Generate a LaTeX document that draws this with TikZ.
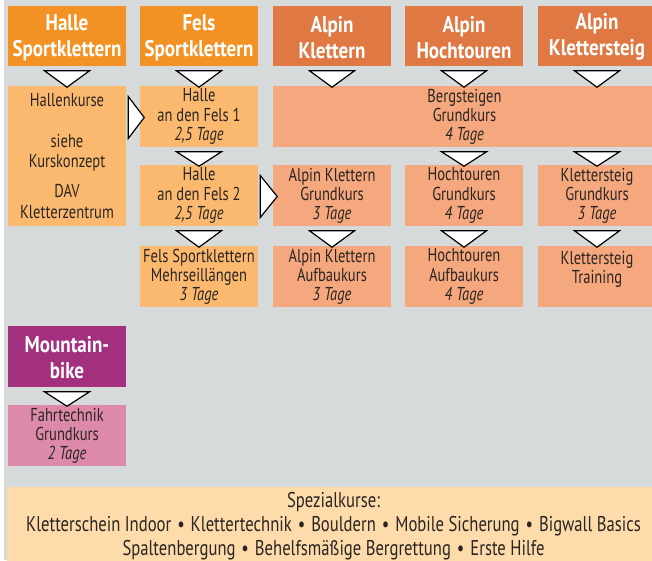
\documentclass[tikz,border=0pt]{standalone}
\usepackage{fontspec}
\setmainfont[FakeStretch=0.78,BoldFeatures={FakeStretch=0.84}]{PT Sans}
\usetikzlibrary{calc}
\definecolor{bgc}{HTML}{D6DADB}
\definecolor{hdrA}{HTML}{F39224}
\definecolor{hdrB}{HTML}{DF7842}
\definecolor{boxA}{HTML}{FBB970}
\definecolor{boxB}{HTML}{F5A77D}
\definecolor{hdrM}{HTML}{A2307F}
\definecolor{boxM}{HTML}{DD8AAA}
\definecolor{boxS}{HTML}{FDDBAA}
\definecolor{txtc}{HTML}{2A2522}
\newcommand{\bodyf}{\fontsize{14}{14.3}\selectfont}
\newcommand{\hdrf}{\fontsize{17}{19.5}\selectfont\bfseries}
\newcommand{\bul}{\hspace{0.28em}•\hspace{0.28em}}
\newcommand{\dtri}[3]{\draw[tri] ($(#2.south -| #1)+(-22.5,4.5)$) -- ($(#2.south -| #1)+(22.5,4.5)$) -- ($(#3.north -| #1)+(0,1.5)$) -- cycle;}
\newcommand{\rtri}[2]{\draw[tri] ($(#1.east |- #2.center)+(2,-20)$) -- ($(#1.east |- #2.center)+(2,22)$) -- ($(#2.west)+(4.5,1)$) -- cycle;}
\begin{document}
\begin{tikzpicture}[x=0.75pt,y=-0.75pt,
  base/.style={rectangle,inner sep=0pt,align=center,minimum width=88.5pt,minimum height=45.75pt},
  hdr/.style={base,minimum height=45pt,text=white,font=\hdrf},
  crs/.style={base,text=txtc,font=\bodyf},
  tri/.style={draw=black,fill=white,line width=0.9pt,line join=miter}]
\useasboundingbox (0,0) rectangle (652,560);
\fill[white] (0,0) rectangle (652,560);
\fill[bgc] (4,0) rectangle (652,560);
% headers
\node[hdr,fill=hdrA] (hH) at (67,36) {\rule{0pt}{14pt}Halle\\Sportklettern};
\node[hdr,fill=hdrA] (fH) at (199,36) {\rule{0pt}{14pt}Fels\\Sportklettern};
\node[hdr,fill=hdrB] (akH) at (332,36) {\rule{0pt}{14pt}Alpin\\Klettern};
\node[hdr,fill=hdrB] (htH) at (464,36) {\rule{0pt}{14pt}Alpin\\Hochtouren};
\node[hdr,fill=hdrB] (ksH) at (597,36) {\rule{0pt}{14pt}Alpin\\Klettersteig};
% row 1
\node[crs,fill=boxA,minimum height=105pt] (hk) at (67,156) {Hallenkurse\\[17pt]siehe\\[0.8pt]Kurskonzept\\[7.5pt]DAV\\[2pt]Kletterzentrum};
\node[crs,fill=boxA] (f1) at (199,116.5) {Halle\\an den Fels 1\\\itshape 2,5 Tage};
\node[crs,fill=boxB,minimum width=287.25pt] (berg) at (464.5,116.5) {Bergsteigen\\Grundkurs\\\itshape 4 Tage};
% row 2
\node[crs,fill=boxA] (f2) at (199,195.5) {Halle\\an den Fels 2\\\itshape 2,5 Tage};
\node[crs,fill=boxB] (akG) at (332,195.5) {Alpin Klettern\\Grundkurs\\\itshape 3 Tage};
\node[crs,fill=boxB] (htG) at (464,195.5) {Hochtouren\\Grundkurs\\\itshape 4 Tage};
\node[crs,fill=boxB] (ksG) at (597,195.5) {Klettersteig\\Grundkurs\\\itshape 3 Tage};
% row 3
\node[crs,fill=boxA] (fM) at (199,276.5) {Fels Sportklettern\\Mehrseillängen\\\itshape 3 Tage};
\node[crs,fill=boxB] (akA) at (332,276.5) {Alpin Klettern\\Aufbaukurs\\\itshape 3 Tage};
\node[crs,fill=boxB] (htA) at (464,276.5) {Hochtouren\\Aufbaukurs\\\itshape 4 Tage};
\node[crs,fill=boxB] (ksT) at (597,276.5) {Klettersteig\\Training\\\phantom{T}};
% mountainbike
\node[hdr,fill=hdrM,minimum height=45.75pt] (mH) at (67,356.5) {\rule{0pt}{14pt}Mountain-\\bike};
\node[crs,fill=boxM] (mF) at (67,435.5) {Fahrtechnik\\Grundkurs\\\itshape 2 Tage};
% special
\node[rectangle,inner sep=0pt,fill=boxS,minimum width=489.75pt,minimum height=58.5pt,align=center,text=txtc,font={\fontsize{16}{18}\selectfont}] (sp) at (333.5,526)
 {Spezialkurse:\\Kletterschein Indoor\bul Klettertechnik\bul Bouldern\bul Mobile Sicherung\bul Bigwall Basics\\Spaltenbergung\bul Behelfsmäßige Bergrettung\bul Erste Hilfe};
% down triangles
\dtri{hH}{hH}{hk}
\dtri{fH}{fH}{f1}
\dtri{akH}{akH}{berg}
\dtri{htH}{htH}{berg}
\dtri{ksH}{ksH}{berg}
\dtri{f1}{f1}{f2}
\dtri{htG}{berg}{htG}
\dtri{ksG}{berg}{ksG}
\dtri{f2}{f2}{fM}
\dtri{akG}{akG}{akA}
\dtri{htG}{htG}{htA}
\dtri{ksG}{ksG}{ksT}
\dtri{mH}{mH}{mF}
% right triangles
\rtri{hk}{f1}
\rtri{f2}{akG}
\end{tikzpicture}
\end{document}
